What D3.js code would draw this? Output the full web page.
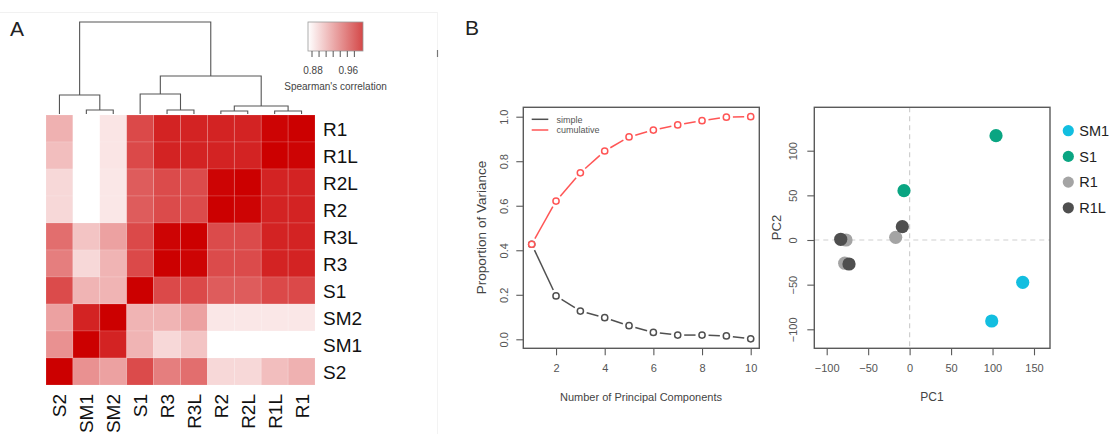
<!DOCTYPE html>
<html><head><meta charset="utf-8">
<script src="https://cdn.jsdelivr.net/npm/d3@7"></script>
<style>body{margin:0;background:#fff} svg{display:block;font-family:"Liberation Sans",Arial,Helvetica,sans-serif}</style>
</head><body><svg id="c" width="1120" height="434"></svg>
<script>
// ---------- data ----------
const rowLabels = ["R1","R1L","R2L","R2","R3L","R3","S1","SM2","SM1","S2"];
const colLabels = ["S2","SM1","SM2","S1","R3","R3L","R2","R2L","R1L","R1"];
const corrR1  = [0.910,0.860,0.883,0.963,0.982,0.982,0.982,0.982,0.998,1.000];
const corrR1L = [0.903,0.860,0.883,0.963,0.982,0.982,0.982,0.982,1.000,0.998];
const corrR2L = [0.890,0.860,0.882,0.953,0.962,0.962,0.998,1.000,0.982,0.982];
const corrR2  = [0.890,0.860,0.882,0.953,0.962,0.962,1.000,0.998,0.982,0.982];
const corrR3L = [0.944,0.900,0.918,0.963,0.998,1.000,0.962,0.962,0.982,0.982];
const corrR3  = [0.936,0.890,0.908,0.963,1.000,0.998,0.962,0.962,0.982,0.982];
const corrS1  = [0.962,0.908,0.908,1.000,0.963,0.963,0.953,0.953,0.963,0.963];
const corrSM2 = [0.918,0.982,1.000,0.908,0.908,0.918,0.882,0.882,0.882,0.882];
const corrSM1 = [0.926,1.000,0.982,0.908,0.890,0.900,0.860,0.860,0.860,0.860];
const corrS2  = [1.000,0.926,0.918,0.962,0.936,0.944,0.890,0.890,0.903,0.910];
const corrRows = [corrR1,corrR1L,corrR2L,corrR2,corrR3L,corrR3,corrS1,corrSM2,corrSM1,corrS2];

// column dendrogram (merge heights, relative)
const dendrogram = {h:1.0, children:[
  {h:0.207, children:[{leaf:"S2"},{h:0.043, children:[{leaf:"SM1"},{leaf:"SM2"}]}]},
  {h:0.413, children:[
    {h:0.217, children:[{leaf:"S1"},{h:0.043, children:[{leaf:"R3"},{leaf:"R3L"}]}]},
    {h:0.087, children:[{h:0.033, children:[{leaf:"R2"},{leaf:"R2L"}]},{h:0.033, children:[{leaf:"R1L"},{leaf:"R1"}]}]}
  ]}
]};
const legendTicks = [0.88,0.896,0.912,0.928,0.944,0.96,0.976];
const legendLabels = [0.88,0.96];

const pcs = [1,2,3,4,5,6,7,8,9,10];
const varSimple = [0.427,0.195,0.127,0.097,0.061,0.031,0.019,0.019,0.015,0.002];
const varCumulative = [0.427,0.621,0.748,0.846,0.909,0.940,0.963,0.982,0.998,1.000];
const varXTicks = [2,4,6,8,10];
const varYTicks = [0,0.2,0.4,0.6,0.8,1.0];

const pcaSample = ["R1","R1","R1","R1L","R1L","R1L","S1","S1","SM1","SM1"];
const pc1 = [-76.7,-78.3,-16.8,-83.1,-73.1,-8.8,104.2,-6.8,136.4,99.0];
const pc2 = [0.0,-26.0,3.0,0.8,-26.9,14.9,116.8,55.2,-47.4,-90.7];
const pcaGroups = ["SM1","S1","R1","R1L"];
const pcaColors = ["#12bee0","#0aa582","#a4a4a4","#4f4f4f"];
const pcaXTicks = [-100,-50,0,50,100,150];
const pcaYTicks = [-100,-50,0,50,100];

// ---------- drawing ----------
const svg = d3.select("#c");
svg.append("rect").attr("width",1120).attr("height",434).attr("fill","#fff");

// faint panel edges
svg.append("line").attr("x1",0).attr("x2",437).attr("y1",12.5).attr("y2",12.5).attr("stroke","#f1f1f1");
svg.append("line").attr("x1",437.5).attr("x2",437.5).attr("y1",12).attr("y2",434).attr("stroke","#f3f3f3");
svg.append("line").attr("x1",437.5).attr("x2",437.5).attr("y1",50).attr("y2",57).attr("stroke","#777").attr("stroke-width",1.2);

// panel letters
svg.append("text").attr("x",10).attr("y",36).attr("font-size",21).attr("fill","#222").text("A");
svg.append("text").attr("x",465).attr("y",35).attr("font-size",21).attr("fill","#222").text("B");

// heatmap
const hx = d3.scaleBand().domain(colLabels).range([46,315]);
const hy = d3.scaleBand().domain(rowLabels).range([115,385]);
const color = d3.scaleLinear().domain([0.87,1]).range(["#ffffff","#cc0000"]).clamp(true);
const cells = [];
rowLabels.forEach((r,i)=>colLabels.forEach((c,j)=>cells.push({r,c,v:corrRows[i][j]})));
svg.append("g").selectAll("rect").data(cells).join("rect")
  .attr("x",d=>hx(d.c)).attr("y",d=>hy(d.r))
  .attr("width",hx.bandwidth()).attr("height",hy.bandwidth())
  .attr("fill",d=>color(d.v))
  .attr("stroke","#ffffff").attr("stroke-opacity",0.18).attr("stroke-width",0.8);

svg.append("g").selectAll("text").data(rowLabels).join("text")
  .attr("x",323).attr("y",d=>hy(d)+hy.bandwidth()/2+7)
  .attr("font-size",19).attr("fill","#111").text(d=>d);

svg.append("g").selectAll("text").data(colLabels).join("text")
  .attr("transform",d=>`translate(${hx(d)+hx.bandwidth()/2+7},394) rotate(-90)`)
  .attr("text-anchor","end").attr("font-size",19).attr("fill","#111").text(d=>d);

// dendrogram
const dy = d3.scaleLinear().domain([0,1]).range([114,22]);
const root = d3.hierarchy(dendrogram);
root.eachAfter(n=>{
  if(n.data.leaf){ n.px = hx(n.data.leaf)+hx.bandwidth()/2; n.hh = 0; }
  else { n.px = d3.mean(n.children,c=>c.px); n.hh = n.data.h; }
});
const dg = svg.append("g").attr("fill","none").attr("stroke","#555").attr("stroke-width",1.1);
root.each(n=>{
  if(!n.children) return;
  const [a,b] = n.children;
  dg.append("path").attr("d",
    `M${a.px},${dy(a.hh)}V${dy(n.hh)}H${b.px}V${dy(b.hh)}`);
});

// color legend
const defs = svg.append("defs");
const grad = defs.append("linearGradient").attr("id","lg");
grad.append("stop").attr("offset","0%").attr("stop-color","#ffffff");
grad.append("stop").attr("offset","100%").attr("stop-color","#d44848");
svg.append("rect").attr("x",308).attr("y",22).attr("width",55).attr("height",29)
  .attr("fill","url(#lg)").attr("stroke","#999").attr("stroke-width",0.8);
const lx = d3.scaleLinear().domain([0.88,0.96]).range([312,347.3]);
svg.append("g").selectAll("line").data(legendTicks).join("line")
  .attr("x1",d=>lx(d)).attr("x2",d=>lx(d)).attr("y1",51).attr("y2",57)
  .attr("stroke","#555").attr("stroke-width",1);
svg.append("g").selectAll("text").data(legendLabels).join("text")
  .attr("x",d=>lx(d)+1).attr("y",74).attr("text-anchor","middle")
  .attr("font-size",10).attr("fill","#444").text(d=>d3.format(".2f")(d));
svg.append("text").attr("x",335.5).attr("y",89.5).attr("text-anchor","middle")
  .attr("font-size",10).attr("fill","#444").text("Spearman's correlation");

// ---------- variance plot ----------
const vx = d3.scaleLinear().domain([1,10]).range([531.7,750.7]);
const vy = d3.scaleLinear().domain([0,1]).range([339.3,116.7]);
const axisColor = "#5a5a5a";
svg.append("rect").attr("x",523.3).attr("y",107.3).attr("width",236).attr("height",241)
  .attr("fill","none").attr("stroke",axisColor).attr("stroke-width",1.4);
function styleAxis(g){
  g.select(".domain").remove();
  g.selectAll("line").attr("stroke",axisColor).attr("stroke-width",1.1);
  g.selectAll("text").attr("fill","#555").attr("font-size",11)
   .attr("font-family","'Liberation Sans',Arial,sans-serif");
}
svg.append("g").attr("transform","translate(0,348.3)")
  .call(d3.axisBottom(vx).tickValues(varXTicks).tickSize(7).tickPadding(9).tickFormat(d3.format("d")))
  .call(styleAxis);
svg.append("g").attr("transform","translate(523.3,0)")
  .call(d3.axisLeft(vy).tickValues(varYTicks).tickSize(7).tickFormat(d3.format(".1f")))
  .call(styleAxis)
  .call(g=>g.selectAll("text").attr("transform","rotate(-90)").attr("x",0).attr("y",-15.5)
        .attr("dy",0).attr("text-anchor","middle"));
svg.append("text").attr("x",641).attr("y",401).attr("text-anchor","middle")
  .attr("font-size",11).attr("fill","#444").text("Number of Principal Components");
svg.append("text").attr("transform","translate(486,227.5) rotate(-90)").attr("text-anchor","middle")
  .attr("font-size",13.5).attr("fill","#444").text("Proportion of Variance");

function typeB(vals, col){
  const pts = pcs.map((p,i)=>[vx(p),vy(vals[i])]);
  const g = svg.append("g");
  const gap = 6.5;
  for(let i=0;i<pts.length-1;i++){
    const [x1,y1]=pts[i],[x2,y2]=pts[i+1];
    const L=Math.hypot(x2-x1,y2-y1); if(L<=2*gap) continue;
    const ux=(x2-x1)/L, uy=(y2-y1)/L;
    g.append("line").attr("x1",x1+ux*gap).attr("y1",y1+uy*gap)
      .attr("x2",x2-ux*gap).attr("y2",y2-uy*gap)
      .attr("stroke",col).attr("stroke-width",1.5);
  }
  g.selectAll("circle").data(pts).join("circle")
    .attr("cx",d=>d[0]).attr("cy",d=>d[1]).attr("r",3.1)
    .attr("fill","#fff").attr("stroke",col).attr("stroke-width",1.5);
}
typeB(varSimple,"#505050");
typeB(varCumulative,"#ff5555");
svg.append("line").attr("x1",531.7).attr("x2",548.3).attr("y1",119.3).attr("y2",119.3).attr("stroke","#505050").attr("stroke-width",1.5);
svg.append("line").attr("x1",531.7).attr("x2",548.3).attr("y1",130).attr("y2",130).attr("stroke","#ff5555").attr("stroke-width",1.5);
svg.append("text").attr("x",556.5).attr("y",122.5).attr("font-size",9).attr("fill","#555").text("simple");
svg.append("text").attr("x",556.5).attr("y",133.2).attr("font-size",9).attr("fill","#555").text("cumulative");

// ---------- PCA scatter ----------
const sx = d3.scaleLinear().domain([-100,150]).range([826.7,1034]);
const sy = d3.scaleLinear().domain([-100,100]).range([329.3,150.7]);
svg.append("line").attr("x1",sx(0)).attr("x2",sx(0)).attr("y1",107.3).attr("y2",348.3)
  .attr("stroke","#cfcfcf").attr("stroke-width",1.2).attr("stroke-dasharray","5,4");
svg.append("line").attr("x1",814.3).attr("x2",1050).attr("y1",sy(0)).attr("y2",sy(0))
  .attr("stroke","#cfcfcf").attr("stroke-width",1.2).attr("stroke-dasharray","5,4");
svg.append("rect").attr("x",814.3).attr("y",107.3).attr("width",235.7).attr("height",241)
  .attr("fill","none").attr("stroke",axisColor).attr("stroke-width",1.4);
svg.append("g").attr("transform","translate(0,348.3)")
  .call(d3.axisBottom(sx).tickValues(pcaXTicks).tickSize(7).tickPadding(9).tickFormat(d3.format("d")))
  .call(styleAxis);
svg.append("g").attr("transform","translate(814.3,0)")
  .call(d3.axisLeft(sy).tickValues(pcaYTicks).tickSize(7).tickFormat(d3.format("d")))
  .call(styleAxis)
  .call(g=>g.selectAll("text").attr("transform","rotate(-90)").attr("x",0).attr("y",-17)
        .attr("dy",0).attr("text-anchor","middle"));
svg.append("text").attr("x",932).attr("y",401).attr("text-anchor","middle")
  .attr("font-size",12).attr("fill","#444").text("PC1");
svg.append("text").attr("transform","translate(781,227.5) rotate(-90)").attr("text-anchor","middle")
  .attr("font-size",13).attr("fill","#444").text("PC2");
const gColor = d3.scaleOrdinal().domain(pcaGroups).range(pcaColors);
const pts = pc1.map((v,i)=>({x:v,y:pc2[i],g:pcaSample[i]}));
svg.append("g").selectAll("circle").data(pts).join("circle")
  .attr("cx",d=>sx(d.x)).attr("cy",d=>sy(d.y)).attr("r",6.6)
  .attr("fill",d=>gColor(d.g));
const lg = svg.append("g").selectAll("g").data(pcaGroups).join("g")
  .attr("transform",(d,i)=>`translate(1068.3,${130.7+i*25.7})`);
lg.append("circle").attr("r",5.6).attr("fill",d=>gColor(d));
lg.append("text").attr("x",11).attr("y",5.2).attr("font-size",14.5).attr("fill","#222").text(d=>d);
</script></body></html>
